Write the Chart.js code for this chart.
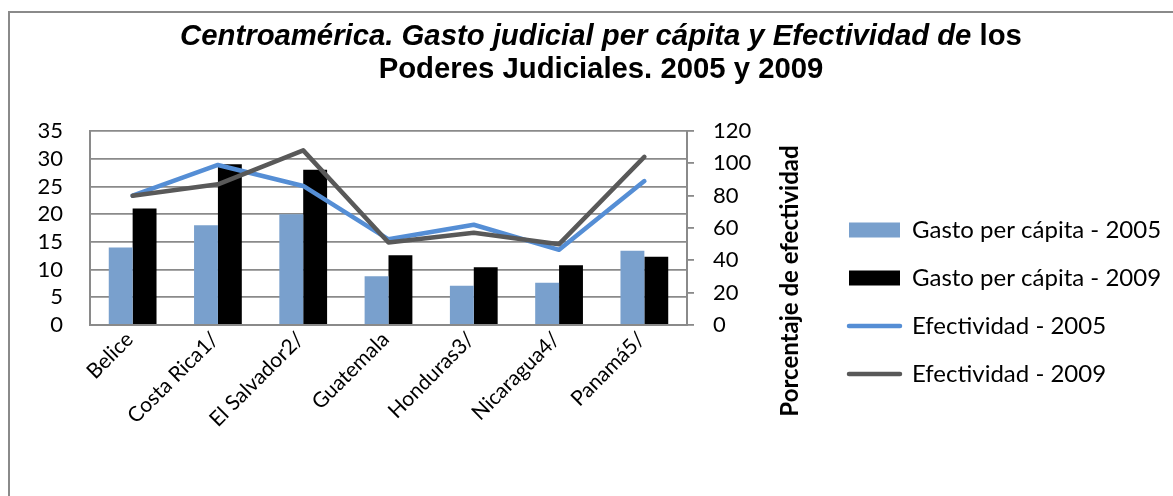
<!DOCTYPE html>
<html>
<head>
<meta charset="utf-8">
<script src="https://cdn.jsdelivr.net/npm/chart.js@4.4.0/dist/chart.umd.min.js"></script>
<style>
  html, body { margin: 0; padding: 0; background: #fff; overflow: hidden; }
  #marco { position: absolute; left: 8px; top: 11px; width: 1200px; height: 600px; border: 2px solid #8a8a8a; }
  #lienzo { position: absolute; left: 0; top: 0; }
</style>
</head>
<body>
<div id="marco"></div>
<canvas id="lienzo" width="1250" height="496"></canvas>
<script>
// datos por país
const paises = ['Belice', 'Costa Rica1/', 'El Salvador2/', 'Guatemala', 'Honduras3/', 'Nicaragua4/', 'Panamá5/'];
const gasto2005 = [14, 18, 20, 8.8, 7.1, 7.6, 13.4];
const gasto2009 = [21, 29, 28, 12.6, 10.4, 10.8, 12.3];
const efect2005 = [80, 99, 86, 53, 62, 46.5, 89];
const efect2009 = [80, 87, 108, 51, 57, 50, 104];

const ticksGasto = { min: 0, max: 35, step: 5 };
const ticksEfect = { min: 0, max: 120, step: 20 };

const LETRA = 'Lato, "Open Sans", sans-serif';
const GRIS = '#8a8a8a';

// medidas de la leyenda (caja a la derecha del eje secundario)
const TAM_LEY = 24;
const PAD_LEY = 24;
const CAJA = 51;
const CAJA_X = 849;
const medir = document.createElement('canvas').getContext('2d');
medir.font = TAM_LEY + 'px ' + LETRA;
const etiquetas = ['Gasto per cápita - 2005', 'Gasto per cápita - 2009', 'Efectividad - 2005', 'Efectividad - 2009'];
const textoMax = Math.max(...etiquetas.map(t => medir.measureText(t).width));
const anchoColumna = CAJA + TAM_LEY / 2 + textoMax;
const canvasW = 1250;
const padDerecha = canvasW - CAJA_X - anchoColumna - 10;
const anchoEje2 = CAJA_X - PAD_LEY - 687;

// titulo en dos lineas con partes en cursiva
const titulo = [
  { y: 45, partes: [
    { t: 'Centroamérica. Gasto judicial per cápita y Efectividad de', f: 'italic bold' },
    { t: ' los', f: 'bold' }
  ] },
  { y: 78, partes: [ { t: 'Poderes Judiciales. 2005 y 2009', f: 'bold' } ] }
];

const textosExtra = {
  id: 'textosExtra',
  afterDraw(chart) {
    const ctx = chart.ctx;
    ctx.save();
    ctx.fillStyle = '#000';
    ctx.textBaseline = 'alphabetic';
    titulo.forEach(linea => {
      let total = 0;
      linea.partes.forEach(p => {
        ctx.font = p.f + ' 29.3px "Liberation Sans", Arial, sans-serif';
        p.w = ctx.measureText(p.t).width;
        total += p.w;
      });
      let x = 601 - total / 2;
      linea.partes.forEach(p => {
        ctx.font = p.f + ' 29.3px "Liberation Sans", Arial, sans-serif';
        ctx.fillText(p.t, x, linea.y);
        x += p.w;
      });
    });

    // titulo del eje derecho, de abajo hacia arriba
    ctx.translate(790, 281);
    ctx.rotate(-Math.PI / 2);
    ctx.font = 'bold 24px ' + LETRA;
    ctx.textAlign = 'center';
    ctx.textBaseline = 'middle';
    ctx.fillText('Porcentaje de efectividad', 0, 0);
    ctx.restore();
  }
};

new Chart(document.getElementById('lienzo'), {
  type: 'bar',
  data: {
    labels: paises,
    datasets: [
      { label: 'Gasto per cápita - 2005', data: gasto2005, backgroundColor: '#79A0CD', yAxisID: 'y', order: 2 },
      { label: 'Gasto per cápita - 2009', data: gasto2009, backgroundColor: '#000000', yAxisID: 'y', order: 2 },
      { type: 'line', label: 'Efectividad - 2005', data: efect2005, borderColor: '#558ED5', borderWidth: 4.5,
        pointRadius: 0, tension: 0, borderCapStyle: 'round', borderJoinStyle: 'round', yAxisID: 'y1', order: 1 },
      { type: 'line', label: 'Efectividad - 2009', data: efect2009, borderColor: '#595959', borderWidth: 4.5,
        pointRadius: 0, tension: 0, borderCapStyle: 'round', borderJoinStyle: 'round', yAxisID: 'y1', order: 0 }
    ]
  },
  options: {
    responsive: false,
    animation: false,
    layout: { padding: { top: 131, bottom: 23, left: 0, right: padDerecha } },
    datasets: { bar: { categoryPercentage: 0.56, barPercentage: 1 } },
    scales: {
      x: {
        grid: { display: false },
        border: { display: true, color: GRIS, width: 2 },
        ticks: { color: '#000', font: { family: LETRA, size: 21 }, minRotation: 45, maxRotation: 45, autoSkip: false,
                 padding: -6, labelOffset: -3 },
        afterFit(s) { s.height = 148; }
      },
      y: {
        position: 'left',
        min: ticksGasto.min, max: ticksGasto.max,
        grid: { color: GRIS, lineWidth: 1.8, drawTicks: false },
        border: { display: true, color: GRIS, width: 2 },
        ticks: { stepSize: ticksGasto.step, autoSkip: false, color: '#000', font: { family: LETRA, size: 22 }, padding: 27 },
        afterFit(s) { s.width = 90; }
      },
      y1: {
        position: 'right',
        min: ticksEfect.min, max: ticksEfect.max,
        grid: { drawOnChartArea: false, color: GRIS, lineWidth: 1.8, tickLength: 7 },
        border: { display: true, color: GRIS, width: 2 },
        ticks: { stepSize: ticksEfect.step, autoSkip: false, color: '#000', font: { family: LETRA, size: 22 }, padding: 19 },
        afterFit(s) { s.width = anchoEje2; }
      }
    },
    plugins: {
      title: { display: false },
      tooltip: { enabled: false },
      legend: {
        position: 'right',
        align: 'center',
        maxWidth: 500,
        labels: {
          usePointStyle: true,
          pointStyleWidth: CAJA,
          boxHeight: 15,
          padding: PAD_LEY,
          color: '#000',
          font: { family: LETRA, size: TAM_LEY },
          generateLabels(chart) {
            return chart.data.datasets.map((ds, i) => {
              const linea = ds.type === 'line';
              return {
                text: ds.label,
                datasetIndex: i,
                hidden: false,
                fontColor: '#000',
                pointStyle: linea ? 'line' : 'rect',
                fillStyle: linea ? 'rgba(0,0,0,0)' : ds.backgroundColor,
                strokeStyle: linea ? ds.borderColor : ds.backgroundColor,
                lineWidth: linea ? 4.5 : 0,
                lineCap: 'round'
              };
            });
          }
        }
      }
    }
  },
  plugins: [textosExtra]
});
</script>
</body>
</html>
